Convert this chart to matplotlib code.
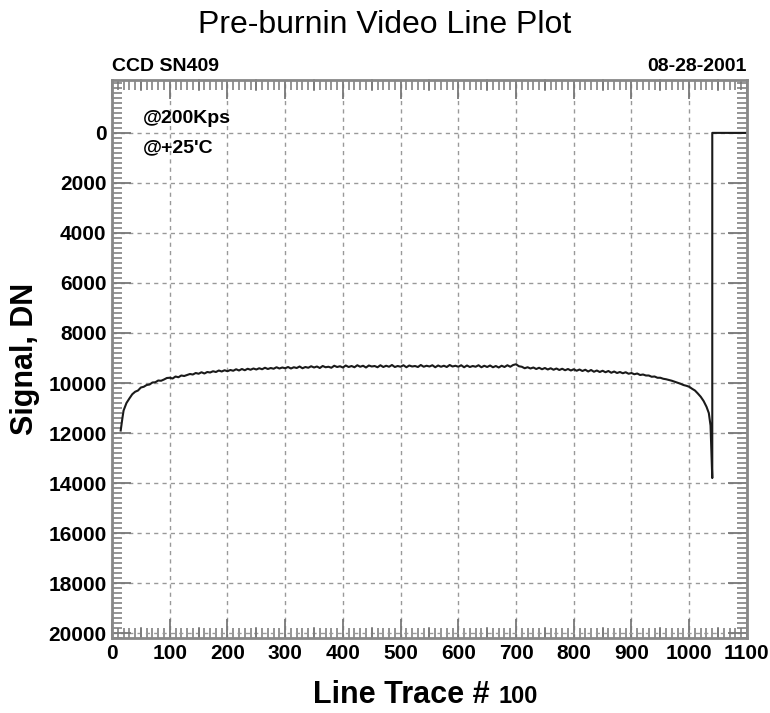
import matplotlib.pyplot as plt
from matplotlib.ticker import MultipleLocator

plt.rcParams['font.family'] = ['Liberation Sans', 'DejaVu Sans']

# line trace position (x) and signal level in DN (y)
trace_x = [15, 18, 20, 25, 30, 35, 40, 45, 50, 55, 60, 65, 70, 75, 80, 85, 90, 95,
           100, 105, 110, 115, 120, 125, 130, 135, 140, 145, 150, 155, 160, 165, 170, 175, 180, 185, 190, 195,
           200, 205, 210, 215, 220, 225, 230, 235, 240, 245, 250, 255, 260, 265, 270, 275, 280, 285, 290, 295,
           300, 305, 310, 315, 320, 325, 330, 335, 340, 345, 350, 355, 360, 365, 370, 375, 380, 385, 390, 395,
           400, 405, 410, 415, 420, 425, 430, 435, 440, 445, 450, 455, 460, 465, 470, 475, 480, 485, 490, 495,
           500, 505, 510, 515, 520, 525, 530, 535, 540, 545, 550, 555, 560, 565, 570, 575, 580, 585, 590, 595,
           600, 605, 610, 615, 620, 625, 630, 635, 640, 645, 650, 655, 660, 665, 670, 675, 680, 685, 690, 695,
           700, 705, 710, 715, 720, 725, 730, 735, 740, 745, 750, 755, 760, 765, 770, 775, 780, 785, 790, 795,
           800, 805, 810, 815, 820, 825, 830, 835, 840, 845, 850, 855, 860, 865, 870, 875, 880, 885, 890, 895,
           900, 905, 910, 915, 920, 925, 930, 935, 940, 945, 950, 955, 960, 965, 970, 975, 980, 985, 990, 995,
           1000, 1005, 1010, 1015, 1020, 1025, 1030, 1034, 1037, 1040, 1040,
           1060, 1080, 1100]
signal_dn = [11900, 11400, 11100, 10800, 10620, 10450, 10350, 10300, 10180, 10150, 10080, 10060, 9980, 9970, 9900, 9910, 9860, 9800,
             9790, 9820, 9740, 9770, 9700, 9720, 9680, 9640, 9660, 9600, 9630, 9570, 9620, 9560, 9580, 9530, 9560, 9500, 9540, 9490,
             9530, 9480, 9510, 9450, 9500, 9440, 9490, 9430, 9470, 9420, 9460, 9410, 9450, 9390, 9440, 9400, 9430, 9370, 9420, 9380,
             9410, 9360, 9420, 9370, 9400, 9340, 9410, 9360, 9390, 9330, 9380, 9340, 9400, 9320, 9370, 9350, 9390, 9310, 9360, 9330,
             9380, 9300, 9360, 9320, 9370, 9290, 9350, 9310, 9380, 9300, 9340, 9320, 9370, 9290, 9360, 9310, 9350, 9280, 9360, 9320,
             9350, 9290, 9370, 9300, 9340, 9320, 9360, 9280, 9350, 9310, 9340, 9290, 9370, 9300, 9350, 9310, 9360, 9280, 9340, 9310,
             9350, 9290, 9370, 9300, 9360, 9320, 9350, 9290, 9370, 9310, 9360, 9300, 9370, 9320, 9380, 9310, 9360, 9290, 9350, 9280,
             9250, 9330, 9350, 9410, 9370, 9420, 9380, 9440, 9390, 9450, 9400, 9460, 9410, 9470, 9420, 9480, 9430, 9490, 9440, 9500,
             9450, 9510, 9460, 9520, 9470, 9540, 9480, 9550, 9500, 9560, 9510, 9570, 9520, 9590, 9540, 9600, 9560, 9610, 9570, 9630,
             9600, 9650, 9620, 9680, 9660, 9700, 9700, 9750, 9740, 9790, 9790, 9830, 9850, 9880, 9910, 9950, 9990, 10030, 10080, 10110,
             10150, 10230, 10300, 10420, 10550, 10720, 10950, 11200, 11700, 13800, 0,
             0, 0, 0]

x_ticks = list(range(0, 1101, 100))
y_ticks = list(range(0, 20001, 2000))

fig = plt.figure(figsize=(7.70, 7.13), dpi=100)
ax = fig.add_axes([0.1455, 0.105, 0.8245, 0.783])

ax.plot(trace_x, signal_dn, color='#1a1a1a', lw=1.5)

ax.set_xlim(0, 1100)
ax.set_ylim(20200, -2120)
ax.set_xticks(x_ticks)
ax.set_yticks(y_ticks)
ax.xaxis.set_minor_locator(MultipleLocator(10))
ax.yaxis.set_minor_locator(MultipleLocator(200))

ax.grid(True, which='major', color='#999999', ls=(0, (3, 3)), lw=1)
ax.tick_params(which='major', direction='in', top=True, right=True,
               length=14, width=1.3, color='#777777', labelsize=15, pad=4)
ax.tick_params(which='minor', direction='in', top=True, right=True,
               length=7, width=1.1, color='#777777')
for lbl in ax.get_xticklabels() + ax.get_yticklabels():
    lbl.set_fontweight('bold')
for sp in ax.spines.values():
    sp.set_color('#888888')
    sp.set_linewidth(2)

# medium ticks halfway between the x labels
for xm in range(50, 1100, 100):
    ax.plot([xm, xm], [20200, 19800], color='#777777', lw=1.2, clip_on=False)
    ax.plot([xm, xm], [-2120, -1720], color='#777777', lw=1.2, clip_on=False)

ax.text(0.048, 0.93, '@200Kps', transform=ax.transAxes, fontsize=14,
        fontweight='bold', va='center')
ax.text(0.048, 0.878, "@+25'C", transform=ax.transAxes, fontsize=14,
        fontweight='bold', va='center')

ax.text(0.0, 1.008, 'CCD SN409', transform=ax.transAxes, fontsize=14,
        fontweight='bold', va='bottom', ha='left')
ax.text(1.0, 1.008, '08-28-2001', transform=ax.transAxes, fontsize=14,
        fontweight='bold', va='bottom', ha='right')

fig.text(0.5, 0.954, 'Pre-burnin Video Line Plot', fontsize=23,
         ha='center', va='baseline')
ax.set_ylabel('Signal, DN', fontsize=22, fontweight='bold', labelpad=6)
fig.text(0.636, 0.014, 'Line Trace #', fontsize=22, fontweight='bold',
         ha='right', va='baseline')
fig.text(0.647, 0.014, '100', fontsize=17, fontweight='bold',
         ha='left', va='baseline')

fig.savefig('out.png', dpi=100)
